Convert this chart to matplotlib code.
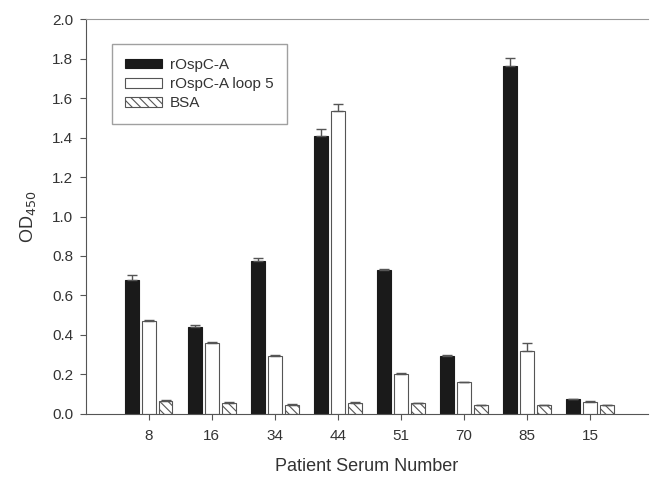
import numpy as np
import matplotlib
matplotlib.use("Agg")
import matplotlib.pyplot as plt

plt.rcParams['font.family'] = ['Liberation Sans', 'DejaVu Sans']
plt.rcParams['hatch.linewidth'] = 0.8

serum = ["8", "16", "34", "44", "51", "70", "85", "15"]
series = ["rOspC-A", "rOspC-A loop 5", "BSA"]

ospc = [0.68, 0.44, 0.775, 1.41, 0.727, 0.293, 1.765, 0.074]
ospc_err = [0.022, 0.008, 0.015, 0.035, 0.005, 0.007, 0.04, 0.003]
loop5 = [0.471, 0.36, 0.292, 1.535, 0.202, 0.16, 0.318, 0.06]
loop5_err = [0.005, 0.003, 0.004, 0.037, 0.006, 0.003, 0.04, 0.003]
bsa = [0.066, 0.055, 0.045, 0.055, 0.053, 0.043, 0.045, 0.044]
bsa_err = [0.006, 0.003, 0.003, 0.003, 0.003, 0.002, 0.002, 0.002]

ink = "#333333"
edge = "#555555"

fig = plt.figure(figsize=(6.5, 4.79), dpi=100)
ax = fig.add_axes([0.132, 0.136, 0.865, 0.824])

x = np.arange(len(serum))
w = 0.22
step = 0.265
err_kw = dict(ecolor=edge, capsize=3.5, elinewidth=1, capthick=1)

ax.bar(x - step, ospc, w, color="#1a1a1a", edgecolor="#1a1a1a", linewidth=0.8,
       yerr=[np.zeros(len(ospc)), ospc_err], error_kw=err_kw, label=series[0])
ax.bar(x, loop5, w, color="white", edgecolor=edge, linewidth=0.8,
       yerr=[np.zeros(len(loop5)), loop5_err], error_kw=err_kw, label=series[1])
ax.bar(x + step, bsa, w, color="white", edgecolor=edge, linewidth=0.8, hatch="\\\\\\\\",
       yerr=[np.zeros(len(bsa)), bsa_err], error_kw=err_kw, label=series[2])

ax.set_xlim(-1, 7.92)
ax.set_ylim(0, 2.0)
ax.set_yticks(np.arange(0, 2.01, 0.2))
ax.set_yticklabels([f"{v:.1f}" for v in np.arange(0, 2.01, 0.2)])
ax.set_xticks(x)
ax.set_xticklabels(serum)

for s in ["left", "bottom"]:
    ax.spines[s].set_color(edge)
ax.spines["top"].set_color("#999999")
ax.spines["right"].set_visible(False)
ax.tick_params(colors=edge, labelcolor=ink, labelsize=11, length=4, direction="out", pad=5)
ax.tick_params(axis="x", pad=7)

ax.set_xlabel("Patient Serum Number", fontsize=13, color=ink, labelpad=11)
ax.set_ylabel("OD$_{450}$", fontsize=13, color=ink, labelpad=10)

leg = ax.legend(loc="upper left", bbox_to_anchor=(0.046, 0.937), fontsize=11,
                frameon=True, fancybox=False, handlelength=2.4, handleheight=0.6,
                borderpad=0.9, labelspacing=0.35, handletextpad=0.5,
                borderaxespad=0)
leg.get_frame().set_edgecolor("#888888")
leg.get_frame().set_linewidth(1.0)
for t in leg.get_texts():
    t.set_color(ink)

fig.savefig("out.png", dpi=100)
